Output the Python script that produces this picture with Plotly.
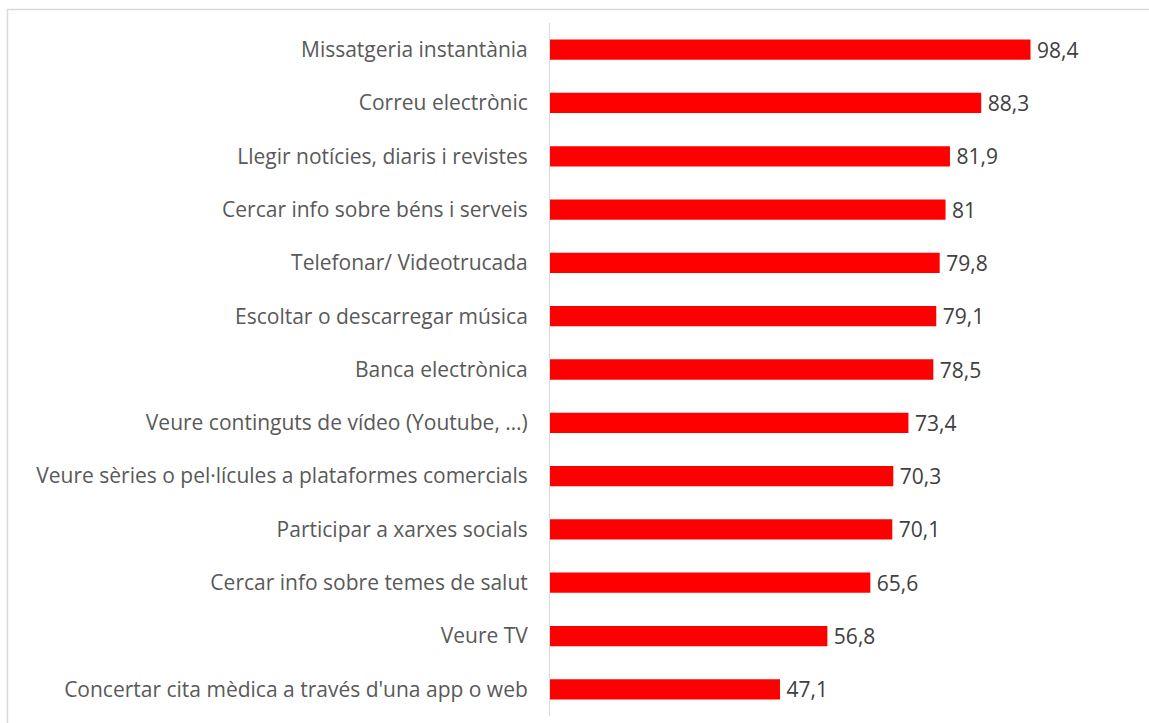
import plotly.graph_objects as go

categories = [
    "Missatgeria instantània",
    "Correu electrònic",
    "Llegir notícies, diaris i revistes",
    "Cercar info sobre béns i serveis",
    "Telefonar/ Videotrucada",
    "Escoltar o descarregar música",
    "Banca electrònica",
    "Veure continguts de vídeo (Youtube, …)",
    "Veure sèries o pel·lícules a plataformes comercials",
    "Participar a xarxes socials",
    "Cercar info sobre temes de salut",
    "Veure TV",
    "Concertar cita mèdica a través d'una app o web",
]
values = [98.4, 88.3, 81.9, 81, 79.8, 79.1, 78.5, 73.4, 70.3, 70.1, 65.6, 56.8, 47.1]
value_labels = [f"{v:g}".replace(".", ",") for v in values]

W, H = 1149, 723
ML, MT, MB = 550, 23, 723 - 716
XMAX = 120
MR = W - ML - round(XMAX * 4.88)
pw = W - ML - MR
ph = H - MT - MB

fig = go.Figure(go.Bar(
    x=values, y=categories, orientation="h",
    marker=dict(color="#ff0000", line=dict(width=0)),
    width=0.38,
    text=value_labels, textposition="outside",
    texttemplate="\u2009%{text}",
    constraintext="none",
    textfont=dict(color="#404040", size=21),
    cliponaxis=False,
    hoverinfo="skip",
))

def px_x(screen):
    return (screen - ML) / pw

def px_y(screen):
    return 1 - (screen - MT) / ph

fig.update_layout(
    width=W, height=H,
    margin=dict(l=ML, r=MR, t=MT, b=MB),
    paper_bgcolor="white", plot_bgcolor="white",
    font=dict(family="Open Sans, Noto Sans, sans-serif", color="#595959", size=21),
    showlegend=False,
    xaxis=dict(range=[0, XMAX], showgrid=False, showticklabels=False,
               zeroline=False, showline=False, fixedrange=True),
    yaxis=dict(autorange="reversed", showgrid=False, showline=True,
               linecolor="#d9d9d9", linewidth=1, ticks="",
               ticklabelstandoff=17, tickfont=dict(size=21, color="#595959")),
    shapes=[dict(type="rect", xref="paper", yref="paper",
                 x0=px_x(7.5), x1=px_x(1170), y0=px_y(9.5), y1=px_y(745),
                 line=dict(color="#d9d9d9", width=1.5), layer="below")],
)

fig.write_html(
    "out.html",
    config={"displayModeBar": False, "staticPlot": True},
    post_script="document.body.style.margin='0';document.body.style.overflow='hidden';",
)
